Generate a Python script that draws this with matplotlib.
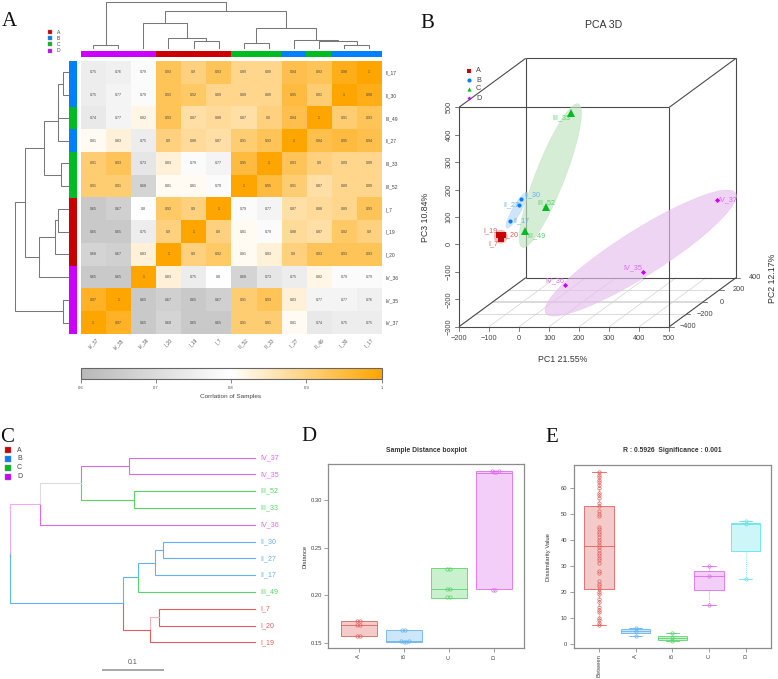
import numpy as np
import matplotlib
matplotlib.use('Agg')
import matplotlib.pyplot as plt
from matplotlib.colors import LinearSegmentedColormap, Normalize, to_rgba
from matplotlib.cm import ScalarMappable

plt.rcParams['font.family'] = 'Liberation Sans'

W, H = 778, 679
GROUP = {'A': '#cc0000', 'B': '#0080ff', 'C': '#00bb22', 'D': '#cc00ff'}
SOFT = {'A': '#e0605c', 'B': '#64b2ee', 'C': '#58d468', 'D': '#dc68ee'}
ELL = {'A': '#e8a0a0', 'B': '#b4d8f5', 'C': '#bfe2bf', 'D': '#e6bfee'}
groups = ['A', 'B', 'C', 'D']

# panel A data
col_names = ['IV_37', 'IV_35', 'IV_36', 'I_20', 'I_19', 'I_7', 'III_52', 'III_33', 'II_27', 'III_49', 'II_30', 'II_17']
row_names = ['II_17', 'II_30', 'III_49', 'II_27', 'III_33', 'III_52', 'I_7', 'I_19', 'I_20', 'IV_36', 'IV_35', 'IV_37']
col_groups = ['D', 'D', 'D', 'A', 'A', 'A', 'C', 'C', 'B', 'C', 'B', 'B']
row_groups = ['B', 'B', 'C', 'B', 'C', 'C', 'A', 'A', 'A', 'D', 'D', 'D']
corr = np.array([
    [0.75, 0.76, 0.79, 0.93, 0.90, 0.93, 0.89, 0.89, 0.94, 0.93, 0.98, 1],
    [0.75, 0.77, 0.79, 0.93, 0.92, 0.89, 0.89, 0.89, 0.95, 0.91, 1, 0.98],
    [0.74, 0.77, 0.82, 0.93, 0.87, 0.88, 0.87, 0.90, 0.94, 1, 0.91, 0.93],
    [0.81, 0.83, 0.75, 0.90, 0.88, 0.87, 0.91, 0.93, 1, 0.94, 0.95, 0.94],
    [0.91, 0.93, 0.73, 0.83, 0.79, 0.77, 0.95, 1, 0.93, 0.90, 0.89, 0.89],
    [0.91, 0.91, 0.68, 0.81, 0.81, 0.79, 1, 0.95, 0.91, 0.87, 0.89, 0.89],
    [0.65, 0.67, 0.80, 0.92, 0.90, 1, 0.79, 0.77, 0.87, 0.88, 0.89, 0.93],
    [0.65, 0.65, 0.75, 0.90, 1, 0.90, 0.81, 0.79, 0.88, 0.87, 0.92, 0.90],
    [0.68, 0.67, 0.83, 1, 0.90, 0.92, 0.81, 0.83, 0.90, 0.93, 0.93, 0.93],
    [0.65, 0.65, 1, 0.83, 0.75, 0.80, 0.68, 0.73, 0.75, 0.82, 0.79, 0.79],
    [0.97, 1, 0.65, 0.67, 0.65, 0.67, 0.91, 0.93, 0.83, 0.77, 0.77, 0.76],
    [1, 0.97, 0.65, 0.68, 0.65, 0.65, 0.91, 0.91, 0.81, 0.74, 0.75, 0.75],
])
# scipy style merges: (child, child, height), new nodes numbered from 12
top_merges = [(0, 1, 13), (4, 5, 26), (3, 13, 33), (2, 14, 78), (6, 7, 18), (10, 11, 13),
              (9, 17, 26), (8, 18, 28), (16, 19, 63), (15, 20, 116), (12, 21, 143)]
side_merges = [(0, 1, 14), (2, 12, 29), (3, 13, 31), (4, 5, 21), (14, 15, 71), (6, 7, 31),
               (8, 17, 38), (9, 18, 86), (16, 19, 129), (10, 11, 14), (20, 21, 159)]

# panel B data
pca_names = ['I_19', 'I_20', 'I_7', 'II_30', 'II_27', 'II_17', 'III_33', 'III_52', 'III_49', 'IV_37', 'IV_35', 'IV_36']
pca_groups = ['A', 'A', 'A', 'B', 'B', 'B', 'C', 'C', 'C', 'D', 'D', 'D']
pc1 = [-107.5, -96.4, -100.7, -48.1, -54.8, -85.9, 90.6, 21.1, -62.5, 464.2, 232.9, 15.0]
pc2 = [-250, -250, -250, -200, -200, -200, -100, -150, -100, 300, 250, 100]
pc3 = [0.8, 0.8, -15.0, 122.2, 99.1, 39.5, 411.0, 79.1, -19.3, 5.6, -245.8, -260.7]
# projected centre, semi axis vectors
ell_center = {'A': (-61.3, 28.3), 'B': (-8, 124.3), 'C': (104, 250.8), 'D': (404.6, -31.3)}
ell_major = {'A': (22, 0), 'B': (33.3, 64.4), 'C': (93.2, 261.4), 'D': (316, 219)}
ell_minor = {'A': (0, 24), 'B': (12.5, -8), 'C': (45, -19.5), 'D': (40.3, -69.9)}

# panel C data
tree_leaves = ['IV_37', 'IV_35', 'III_52', 'III_33', 'IV_36', 'II_30', 'II_27', 'II_17', 'III_49', 'I_7', 'I_20', 'I_19']
tree_groups = ['D', 'D', 'C', 'C', 'D', 'B', 'B', 'B', 'C', 'A', 'A', 'A']
tree_merges = [(0, 1, .204), (2, 3, .196), (12, 13, .282), (14, 4, .348), (5, 6, .150), (16, 7, .162),
               (17, 8, .190), (9, 10, .155), (19, 11, .171), (18, 20, .214), (15, 21, .398)]
tree_node_colors = [SOFT['D'], SOFT['C'], '#dddddd', '#eeaaf5', SOFT['B'], SOFT['B'], SOFT['B'],
                    '#eeb5b3', SOFT['A'], SOFT['B']]

# panel D data
d_labels = ['A', 'B', 'C', 'D']
d_q1 = [.158, .1517, .1977, .2064]
d_med = [.169, .152, .2064, .3275]
d_q3 = [.173, .164, .2283, .3295]
d_vals = [[.173, .173, .169, .169, .158, .158],
          [.164, .164, .152, .1515, .1515, .1525],
          [.228, .228, .2064, .2064, .198, .198],
          [.33, .329, .3285, .33, .206, .206]]
d_jitter = [[-.035, .035, -.035, .035, -.035, .035],
            [-.035, .035, -.07, 0, .05, .12],
            [-.035, .035, -.035, .035, -.035, .035],
            [-.05, .0, .05, .11, -.03, .03]]
d_colors = [SOFT['A'], SOFT['B'], SOFT['C'], SOFT['D']]

# panel E data
e_labels = ['Between', 'A', 'B', 'C', 'D']
e_low = [7, 3, 1, 15, 25]
e_q1 = [21, 4, 1.5, 20.5, 35.5]
e_med = [37.5, 5, 2, 26, 46]
e_q3 = [53, 5.5, 3, 28, 46.5]
e_high = [66, 6, 4, 30, 47]
e_vals = [[7, 8, 9, 10, 12, 13, 14, 16, 17, 19, 20, 21, 22, 23, 24, 27, 28, 31, 32, 33, 34, 35, 36, 37, 38,
           39, 40, 41, 42, 43, 44, 45, 49, 50, 51, 53, 54, 56, 57, 58, 60, 61, 62, 63, 64, 65, 66],
          [3, 5, 6], [1, 2, 4], [15, 26, 30], [25, 46, 47]]
e_colors = [SOFT['A'], SOFT['B'], SOFT['C'], SOFT['D'], '#62e4ea']


fig = plt.figure(figsize=(W / 100, H / 100), dpi=100)


def px_axes(l, t, r, b):
    return fig.add_axes([l / W, 1 - b / H, (r - l) / W, (b - t) / H])


def bare(ax):
    ax.set_xticks([])
    ax.set_yticks([])
    for s in ax.spines.values():
        s.set_visible(False)
    ax.patch.set_alpha(0)


def draw_dendro(ax, merges, n, vertical=True):
    pos = {i: (i + .5, 0) for i in range(n)}
    for k, (a, b, h) in enumerate(merges):
        xa, ha = pos[a]
        xb, hb = pos[b]
        p = [xa, xa, xb, xb]
        q = [ha, h, h, hb]
        if vertical:
            ax.plot(p, q, color='#787878', lw=.75, solid_joinstyle='miter')
        else:
            ax.plot(q, p, color='#787878', lw=.75, solid_joinstyle='miter')
        pos[n + k] = ((xa + xb) / 2, h)


# ---- A: heatmap
L, R, T, B = 80.7, 381.6, 61, 334
cmap = LinearSegmentedColormap.from_list('corr', ['#b8b8b8', '#ffffff', '#ffa500'])
ax = px_axes(L, T, R, B)
ax.imshow(corr, cmap=cmap, vmin=.6, vmax=1, aspect='auto', interpolation='nearest')
for i in range(12):
    for j in range(12):
        ax.text(j, i, '%g' % corr[i, j], ha='center', va='center', fontsize=2.6, color='#444444')
ax.set_xticks(range(12))
ax.set_xticklabels(col_names, rotation=45, ha='center', fontsize=3.4, color='#555555')
ax.yaxis.tick_right()
ax.set_yticks(range(12))
ax.set_yticklabels(row_names, fontsize=3.6, color='#444444')
ax.tick_params(length=0, pad=2.5)
for s in ax.spines.values():
    s.set_visible(False)

ax = px_axes(L, 50.7, R, 56.5)
ax.bar(np.arange(12) + .5, 1, width=1, color=[GROUP[g] for g in col_groups])
ax.set_xlim(0, 12)
ax.set_ylim(0, 1)
bare(ax)

ax = px_axes(69.3, T, 77.3, B)
ax.barh(np.arange(12) + .5, 1, height=1, color=[GROUP[g] for g in row_groups])
ax.set_ylim(12, 0)
ax.set_xlim(0, 1)
bare(ax)

ax = px_axes(L, .7, R, 49.3)
draw_dendro(ax, top_merges, 12, vertical=True)
ax.set_xlim(0, 12)
ax.set_ylim(0, 146)
bare(ax)

ax = px_axes(15, T, 68, B)
draw_dendro(ax, side_merges, 12, vertical=False)
ax.set_xlim(159, 0)
ax.set_ylim(12, 0)
bare(ax)
for ln in ax.lines:
    ln.set_clip_on(False)

cax = px_axes(L, 368.3, R, 379.3)
cb = fig.colorbar(ScalarMappable(Normalize(.6, 1), cmap), cax=cax, orientation='horizontal')
cb.set_ticks([.6, .7, .8, .9, 1])
cb.set_ticklabels(['0.6', '0.7', '0.8', '0.9', '1'])
cb.ax.tick_params(labelsize=3, length=3, width=.5, color='#555555', labelcolor='#444444', pad=1.5)
cb.outline.set_edgecolor('#666666')
cb.outline.set_linewidth(.8)

# ---- B: PCA 3D, oblique projection as scatterplot3d does
DX, DZ = .2778, .2234


def proj(x, y, z):
    return x + (y + 400) * DX, z + (y + 400) * DZ


ax = px_axes(459, 107.3, 669.3, 326.7)
ax.set_xlim(-200, 500)
ax.set_ylim(-300, 500)
ax.axis('off')


def line3(a, b, **kw):
    xa, za = proj(*a)
    xb, zb = proj(*b)
    ax.plot([xa, xb], [za, zb], clip_on=False, solid_capstyle='butt', **kw)


for x in range(-200, 501, 100):
    line3((x, -400, -300), (x, 400, -300), color='#d4d4d4', lw=.5, zorder=1)
for y, lw in zip([-200, 0, 200], [.6, 1.2, .6]):
    line3((-200, y, -300), (500, y, -300), color='#d4d4d4', lw=lw, zorder=1)
box_kw = dict(color='#4a4a4a', lw=.8, zorder=2)
for y in (-400, 400):
    line3((-200, y, -300), (500, y, -300), **box_kw)
    line3((-200, y, 500), (500, y, 500), **box_kw)
    line3((-200, y, -300), (-200, y, 500), **box_kw)
    line3((500, y, -300), (500, y, 500), **box_kw)
for x in (-200, 500):
    for z in (-300, 500):
        line3((x, -400, z), (x, 400, z), **box_kw)

tick_kw = dict(color='#4a4a4a', lw=.5, zorder=2)
lab_kw = dict(fontsize=5.3, color='#444444', ha='center', va='center', clip_on=False)
for x in range(-200, 501, 100):
    ax.plot([x, x], [-300, -315], clip_on=False, **tick_kw)
    ax.text(x, -342, str(x).replace('-', '\u2212'), **lab_kw)
for z in range(-300, 501, 100):
    ax.plot([-200, -212], [z, z], clip_on=False, **tick_kw)
    ax.text(-232, z, str(z).replace('-', '\u2212'), rotation=90, **lab_kw)
for y in range(-400, 401, 200):
    xp, zp = proj(500, y, -300)
    ax.plot([xp, xp + 14], [zp, zp], clip_on=False, **tick_kw)
    ax.text(xp + 63, zp, str(y).replace('-', '\u2212'), **lab_kw)

t = np.radians(np.arange(0, 361, 4))
for g in groups:
    cx, cz = ell_center[g]
    ux, uz = ell_major[g]
    vx, vz = ell_minor[g]
    ax.fill(cx + ux * np.cos(t) + vx * np.sin(t), cz + uz * np.cos(t) + vz * np.sin(t),
            facecolor=ELL[g], edgecolor=ELL[g], alpha=.65, lw=.4, zorder=3, clip_on=False)

markers = {'A': ('s', 5), 'B': ('o', 3), 'C': ('^', 5.2), 'D': ('D', 2.6)}
label_off = {'I_19': (-27, 13), 'I_20': (26, 2), 'I_7': (-23, -14), 'II_30': (33, 13), 'II_27': (-25, 0),
             'II_17': (34, 2), 'III_33': (-29, -13), 'III_52': (1, 14), 'III_49': (32, -13), 'IV_37': (34, 2),
             'IV_35': (-32, 14), 'IV_36': (-30, 13)}
for name, g, a, b, c in zip(pca_names, pca_groups, pc1, pc2, pc3):
    xp, zp = proj(a, b, c)
    dx, dy = label_off[name]
    ax.annotate(name, (xp, zp), xytext=(dx * .24, dy * .24), textcoords='offset points', fontsize=5.2,
                color=SOFT[g], ha='center', va='center', zorder=4, annotation_clip=False)
    ax.plot([xp], [zp], marker=markers[g][0], ms=markers[g][1], color=GROUP[g], mew=0, zorder=5, clip_on=False)

# ---- C: tree
ax = px_axes(9.33, 457.7, 255, 642.3)
ax.set_xlim(.3984, 0)
ax.set_ylim(11, 0)
ax.axis('off')
pos = {i: (i, 0) for i in range(12)}
edge_col = {i: SOFT[g] for i, g in enumerate(tree_groups)}
for k, c in enumerate(tree_node_colors):
    edge_col[12 + k] = c
for k, (a, b, h) in enumerate(tree_merges):
    ya, ha = pos[a]
    yb, hb = pos[b]
    mid = (ya + yb) / 2
    for child, yc, hc in ((a, ya, ha), (b, yb, hb)):
        ax.plot([hc, h, h], [yc, yc, mid], color=edge_col[child], lw=.8, clip_on=False, solid_joinstyle='miter')
    pos[12 + k] = (mid, h)
for i, (name, g) in enumerate(zip(tree_leaves, tree_groups)):
    ax.text(-.0092, i, name, color=SOFT[g], fontsize=5.1, va='center', ha='left', clip_on=False)
ax.plot([.248, .148], [12.63, 12.63], color='#999999', lw=1.2, clip_on=False, solid_capstyle='butt')
ax.text(.198, 12.18, '0.1', fontsize=5, color='#555555', ha='center', va='center', clip_on=False)


# ---- D / E boxplots
def style_axes(ax):
    for s in ax.spines.values():
        s.set_color('#8c8c8c')
        s.set_linewidth(.9)
    ax.tick_params(length=3, width=.5, color='#777777', labelsize=4.2, labelcolor='#444444', pad=1.5)
    ax.tick_params(axis='x', labelrotation=90)


def color_box(parts, i, col, dotted=False):
    parts['boxes'][i].set(facecolor=to_rgba(col, .32), edgecolor=to_rgba(col, .85), linewidth=.7)
    parts['medians'][i].set(color=to_rgba(col, .85), linewidth=.7)
    for w in parts['whiskers'][2 * i:2 * i + 2]:
        w.set(color=col, linewidth=.6, linestyle=(0, (1, 1.5)) if dotted else '-')
    if parts['caps']:
        for c in parts['caps'][2 * i:2 * i + 2]:
            c.set(color=col, linewidth=.6)


ax = px_axes(328.3, 464.3, 524, 648.3)
stats = [dict(med=m, q1=a, q3=b, whislo=a, whishi=b, label=l) for l, a, m, b in zip(d_labels, d_q1, d_med, d_q3)]
parts = ax.bxp(stats, positions=[1, 2, 3, 4], widths=.8, showfliers=False, showcaps=False, patch_artist=True)
for i, col in enumerate(d_colors):
    color_box(parts, i, col)
    ax.plot(np.array(d_jitter[i]) + i + 1, d_vals[i], 'o', ms=2.4, mfc='none', mec=col, mew=.5)
ax.set_xlim(.32, 4.67)
ax.set_ylim(.1448, .3369)
ax.set_yticks([.15, .20, .25, .30])
ax.set_yticklabels(['0.15', '0.20', '0.25', '0.30'])
style_axes(ax)

ax = px_axes(573.7, 465.3, 771, 647.7)
stats = [dict(med=m, q1=a, q3=b, whislo=lo, whishi=hi, label=l)
         for l, lo, a, m, b, hi in zip(e_labels, e_low, e_q1, e_med, e_q3, e_high)]
parts = ax.bxp(stats, positions=[1, 2, 3, 4, 5], widths=.8, capwidths=.36, showfliers=False, patch_artist=True)
for i, col in enumerate(e_colors):
    color_box(parts, i, col, dotted=True)
    ax.plot([i + 1] * len(e_vals[i]), e_vals[i], 'o', ms=2.4, mfc='none', mec=col, mew=.5)
ax.set_xlim(.31, 5.69)
ax.set_ylim(-1.54, 68.6)
ax.set_yticks(range(0, 61, 10))
style_axes(ax)

# ---- text overlay in pixel coordinates
ov = fig.add_axes([0, 0, 1, 1], zorder=10)
ov.set_xlim(0, W)
ov.set_ylim(H, 0)
ov.axis('off')
for s, x, y in [('A', 9.5, 21.5), ('B', 427, 23.5), ('C', 7.5, 437), ('D', 309, 436.5), ('E', 552, 437)]:
    ov.text(x, y, s, family='Liberation Serif', fontsize=15, ha='center', va='center', color='#111111')
for i, g in enumerate(groups):
    ov.plot([49.7], [32 + i * 6.2], 's', ms=3.4, color=GROUP[g], mew=.3, mec='#888888')
    ov.text(57, 32 + i * 6.2, g, fontsize=3.6, va='center', color='#444444')
    ov.plot([8.3], [450 + i * 8.9], 's', ms=4.2, color=GROUP[g], mew=.3, mec='#888888')
    ov.text(17, 450 + i * 8.9, g, fontsize=5, va='center', color='#444444')
    ov.plot([469.3], [71 + i * 9], markers[g][0], ms=3 if g != 'D' else 2, color=GROUP[g], mew=0)
    ov.text(476, 71 + i * 9, g, fontsize=5.2, va='center', color='#444444')
ov.text(231, 396.7, 'Corrlation of Samples', fontsize=4.6, ha='center', va='center', color='#444444')
ov.text(604, 25, 'PCA 3D', fontsize=7.6, ha='center', va='center', color='#333333')
ov.text(563, 359, 'PC1 21.55%', fontsize=6.3, ha='center', va='center', color='#333333')
ov.text(426, 217, 'PC3 10.84%', fontsize=6.3, rotation=90, ha='center', va='center', color='#333333')
ov.text(773, 278, 'PC2 12.17%', fontsize=6.3, rotation=90, ha='center', va='center', color='#333333')
ov.text(426, 450, 'Sample Distance boxplot', fontsize=4.9, fontweight='bold', ha='center', va='center', color='#333333')
ov.text(305, 556.7, 'Distance', fontsize=4.2, rotation=90, ha='center', va='center', color='#333333')
ov.text(672, 451, 'R : 0.5926  Significance : 0.001', fontsize=4.9, fontweight='bold', ha='center', va='center', color='#333333')
ov.text(549, 556.7, 'Dissimilarity Value', fontsize=4.2, rotation=90, ha='center', va='center', color='#333333')

fig.savefig('out.png', dpi=100)
